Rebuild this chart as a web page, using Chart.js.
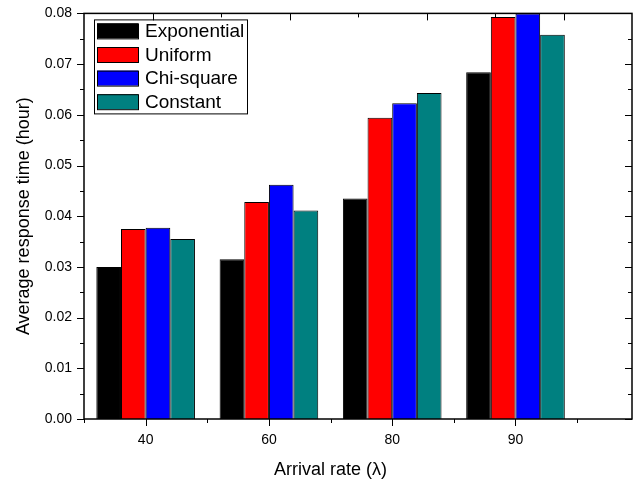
<!DOCTYPE html>
<html>
<head>
<meta charset="utf-8">
<script src="https://cdn.jsdelivr.net/npm/chart.js@4.4.1/dist/chart.umd.min.js"></script>
<style>
  html, body { margin: 0; padding: 0; background: #fff; }
  #wrap { width: 638px; height: 484px; }
</style>
</head>
<body>
<div id="wrap"><canvas id="chart" width="638" height="484"></canvas></div>
<script>
const categories = ["40", "60", "80", "90"];
const seriesNames = ["Exponential", "Uniform", "Chi-square", "Constant"];
const exponential = [0.0300, 0.0315, 0.0435, 0.0684];
const uniform = [0.0375, 0.0428, 0.0594, 0.0793];
const chiSquare = [0.0377, 0.0462, 0.0623, 0.0800];
const constant = [0.0355, 0.0411, 0.0643, 0.0758];
const yTicks = [0, 0.01, 0.02, 0.03, 0.04, 0.05, 0.06, 0.07, 0.08];

const seriesColors = ["#000000", "#ff0000", "#0000ff", "#008080"];
const FONT = "'Liberation Sans', Arial, sans-serif";

const seriesValues = [exponential, uniform, chiSquare, constant];

const datasets = seriesNames.map((name, i) => ({
  label: name,
  data: seriesValues[i].map((v, j) => ({ x: j + 1, y: v })),
  backgroundColor: seriesColors[i],
  borderColor: "#000",
  borderWidth: 1,
  categoryPercentage: 0.8,
  barPercentage: 1.0
}));

/* frame, minor ticks, legend box and x title */
const framePlugin = {
  id: "frame",
  afterDraw(chart) {
    const { ctx, chartArea: a, scales } = chart;
    const xs = scales.x, ys = scales.y;
    ctx.save();
    ctx.strokeStyle = "#000";
    ctx.lineWidth = 1.5;
    ctx.strokeRect(a.left, a.top, a.right - a.left, a.bottom - a.top);

    ctx.lineWidth = 1;
    ctx.beginPath();
    // y ticks, left outward and right inward
    yTicks.forEach((v, i) => {
      const py = Math.round(ys.getPixelForValue(v)) + 0.5;
      ctx.moveTo(a.left - 7, py); ctx.lineTo(a.left, py);
      ctx.moveTo(a.right, py); ctx.lineTo(a.right - 7, py);
      if (i < yTicks.length - 1) {
        const pm = Math.round(ys.getPixelForValue((v + yTicks[i + 1]) / 2)) + 0.5;
        ctx.moveTo(a.left - 4, pm); ctx.lineTo(a.left, pm);
        ctx.moveTo(a.right, pm); ctx.lineTo(a.right - 4, pm);
      }
    });
    // bottom ticks
    categories.forEach((c, i) => {
      const px = Math.round(xs.getPixelForValue(i + 1)) + 0.5;
      ctx.moveTo(px, a.bottom); ctx.lineTo(px, a.bottom + 7);
      const pl = Math.round(xs.getPixelForValue(i + 0.5)) + 0.5;
      ctx.moveTo(pl, a.bottom); ctx.lineTo(pl, a.bottom + 4);
    });
    const pEnd = Math.round(xs.getPixelForValue(categories.length + 0.5)) + 0.5;
    ctx.moveTo(pEnd, a.bottom); ctx.lineTo(pEnd, a.bottom + 4);
    // top ticks, inward
    const w = a.right - a.left;
    for (let k = 1; k < 8; k++) {
      const px = Math.round(a.left + w * k / 8) + 0.5;
      ctx.moveTo(px, a.top); ctx.lineTo(px, a.top + (k % 2 ? 7 : 4));
    }
    ctx.stroke();

    // legend
    const lx = a.left + 10, ly = a.top + 6;
    ctx.lineWidth = 1;
    ctx.strokeRect(lx + 0.5, ly + 0.5, 153, 94);
    ctx.font = "19px " + FONT;
    ctx.textBaseline = "middle";
    ctx.textAlign = "left";
    seriesNames.forEach((name, i) => {
      const cy = ly + 11.5 + i * 23.6;
      ctx.fillStyle = seriesColors[i];
      ctx.fillRect(lx + 3, cy - 7.5, 41, 15);
      ctx.strokeStyle = "#000";
      ctx.strokeRect(lx + 3.5, cy - 7, 41, 15);
      ctx.fillStyle = "#000";
      ctx.fillText(name, lx + 51, cy + 1);
    });

    // x axis title centred over the category range
    const cx = (xs.getPixelForValue(1) + xs.getPixelForValue(categories.length)) / 2;
    ctx.font = "18px " + FONT;
    ctx.textAlign = "center";
    ctx.fillText("Arrival rate (\u03bb)", cx, 470);
    ctx.restore();
  }
};

new Chart(document.getElementById("chart"), {
  type: "bar",
  data: { datasets },
  options: {
    responsive: false,
    animation: false,
    layout: { padding: { top: 13, right: 6, left: 0, bottom: 0 } },
    plugins: { legend: { display: false }, tooltip: { enabled: false } },
    scales: {
      x: {
        type: "linear",
        offset: false,
        min: 0.5,
        max: 4.945,
        afterBuildTicks: (scale) => {
          scale.ticks = categories.map((c, i) => ({ value: i + 1 }));
        },
        afterFit: (scale) => { scale.height = 65; },
        grid: { display: false, offset: false, drawTicks: true, tickLength: 7 },
        border: { display: false },
        ticks: {
          color: "#000",
          font: { family: FONT, size: 14 },
          padding: 6,
          maxRotation: 0,
          callback: (v, i) => categories[i]
        }
      },
      y: {
        min: 0,
        max: 0.08,
        afterBuildTicks: (scale) => {
          scale.ticks = yTicks.map((v) => ({ value: v }));
        },
        afterFit: (scale) => { scale.width = 84; },
        grid: { display: false, drawTicks: true, tickLength: 7 },
        border: { display: false },
        ticks: {
          color: "#000",
          font: { family: FONT, size: 14 },
          padding: 5,
          callback: (v) => v.toFixed(2)
        },
        title: {
          display: true,
          text: "Average response time (hour)",
          color: "#000",
          font: { family: FONT, size: 18 },
          padding: { top: 13, bottom: 0 }
        }
      }
    }
  },
  plugins: [framePlugin]
});
</script>
</body>
</html>
